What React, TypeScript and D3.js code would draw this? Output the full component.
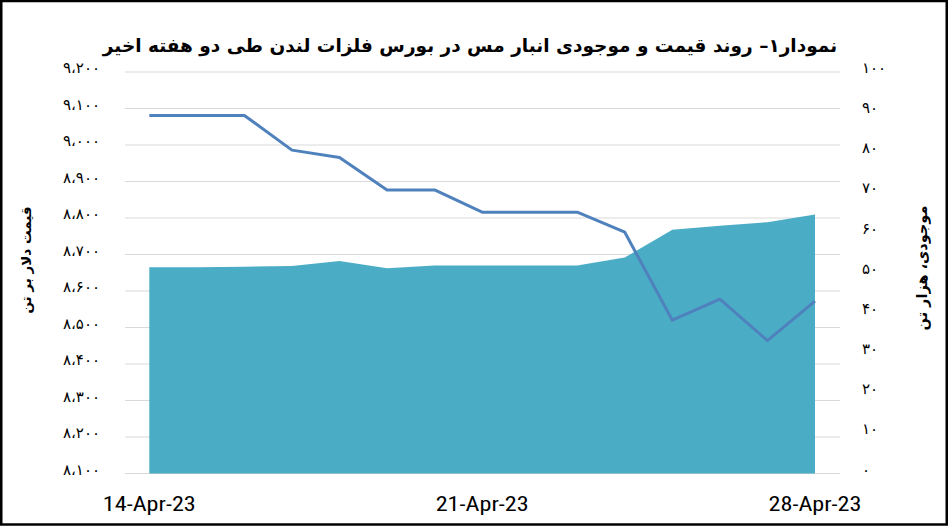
import React from "react";
import * as d3 from "d3";

const dates: string[] = [
  "2023-04-14", "2023-04-15", "2023-04-16", "2023-04-17", "2023-04-18",
  "2023-04-19", "2023-04-20", "2023-04-21", "2023-04-22", "2023-04-23",
  "2023-04-24", "2023-04-25", "2023-04-26", "2023-04-27", "2023-04-28",
];
const price: number[] = [9081, 9081, 9081, 8986, 8966, 8877, 8877, 8816, 8816, 8816, 8761, 8520, 8578, 8464, 8572];
const inventory: number[] = [51.4, 51.4, 51.5, 51.7, 52.9, 51.1, 51.8, 51.8, 51.8, 51.8, 53.8, 60.7, 61.7, 62.6, 64.5];
const priceTicks: number[] = [8100, 8200, 8300, 8400, 8500, 8600, 8700, 8800, 8900, 9000, 9100, 9200];
const invTicks: number[] = [0, 10, 20, 30, 40, 50, 60, 70, 80, 90, 100];
const xTickDates: string[] = ["2023-04-14", "2023-04-21", "2023-04-28"];
const title = "نمودار۱– روند قیمت و موجودی انبار مس در بورس فلزات لندن طی دو هفته اخیر";
const leftTitle = "قیمت دلار بر تن";
const rightTitle = "موجودی، هزار تن";

const W = 948, H = 526;
const toFa = (s: string) => s.replace(/\d/g, (d) => "۰۱۲۳۴۵۶۷۸۹"[+d]);
const fmtPrice = (v: number) => toFa(d3.format(",")(v)).replace(/,/g, "،");
const fmtDate = d3.timeFormat("%-d-%b-%y");
const parse = d3.utcParse("%Y-%m-%d");

export default function App() {
  const dts = dates.map((d) => parse(d) as Date);
  const x = d3.scaleUtc().domain([dts[0], dts[dts.length - 1]]).range([149.3, 815]);
  const yL = d3.scaleLinear().domain([8100, 9200]).range([473.5, 72]);
  const yR = d3.scaleLinear().domain([0, 100]).range([473.5, 72]);
  const area = d3.area<number>()
    .x((_, i) => x(dts[i]))
    .y0(yR(0))
    .y1((d) => yR(d));
  const line = d3.line<number>()
    .x((_, i) => x(dts[i]))
    .y((d) => yL(d));
  const fa = "'DejaVu Sans', sans-serif";
  return (
    <svg width={W} height={H} style={{ position: "absolute", left: 0, top: 0, background: "#fff" }}>
      <rect x={0} y={0} width={W} height={H} fill="#fff" />
      {priceTicks.map((t) => (
        <line key={"g" + t} x1={125} x2={840} y1={yL(t)} y2={yL(t)} stroke="#d9d9d9" strokeWidth={1} />
      ))}
      <path d={area(inventory) || ""} fill="#4bacc6" />
      <path d={line(price) || ""} fill="none" stroke="#4f81bd" strokeWidth={3} strokeLinejoin="round" />
      {priceTicks.map((t) => (
        <text key={"l" + t} x={100} y={yL(t) + 1} textAnchor="end" fontFamily={fa} fontSize={15} fill="#000" direction="ltr">
          {fmtPrice(t)}
        </text>
      ))}
      {invTicks.map((t) => (
        <text key={"r" + t} x={862} y={yR(t) + 1} textAnchor="start" fontFamily={fa} fontSize={15} fill="#000" direction="ltr">
          {toFa(String(t))}
        </text>
      ))}
      {xTickDates.map((d) => {
        const dt = parse(d) as Date;
        return (
          <text key={d} x={x(dt)} y={511} textAnchor="middle" fontFamily="'Liberation Sans Narrow', 'Roboto Condensed', 'Liberation Sans', sans-serif" fontSize={20} fill="#000" textLength={93} lengthAdjust="spacingAndGlyphs">
            {fmtDate(dt)}
          </text>
        );
      })}
      <text x={470} y={52} textAnchor="middle" direction="rtl" fontFamily={fa} fontWeight="bold" fontSize={18.5} fill="#000">
        {title}
      </text>
      <text transform="translate(31,260) rotate(-90)" textAnchor="middle" direction="rtl" fontFamily={fa} fontWeight="bold" fontSize={13.5} fill="#000">
        {leftTitle}
      </text>
      <text transform="translate(927,268) rotate(-90)" textAnchor="middle" direction="rtl" fontFamily={fa} fontWeight="bold" fontSize={14.5} fill="#000">
        {rightTitle}
      </text>
      <rect x={1.25} y={1} width={945.5} height={523.5} fill="none" stroke="#000" strokeWidth={2.5} />
    </svg>
  );
}
